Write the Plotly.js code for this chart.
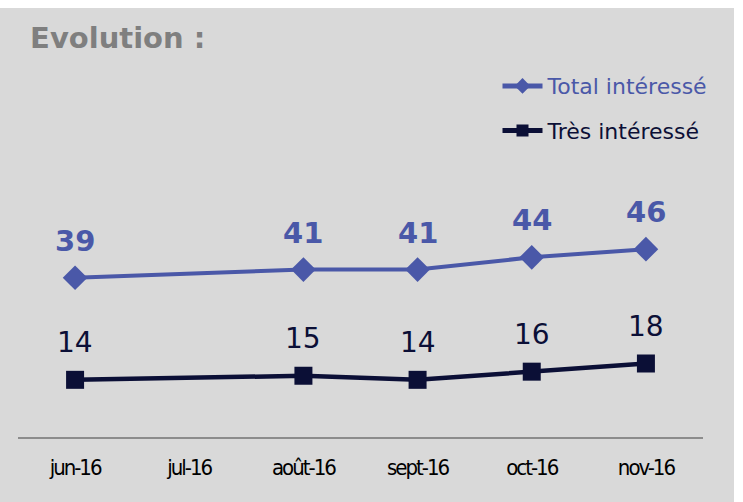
<!DOCTYPE html>
<html>
<head>
<meta charset="utf-8">
<script src="https://cdn.plot.ly/plotly-3.0.1.min.js"></script>
<style>
html,body{margin:0;padding:0;background:#ffffff;}
#chart{position:absolute;left:0;top:8px;width:734px;height:494px;}
</style>
</head>
<body>
<div id="chart"></div>
<script>
// Data
const months = ['jun-16','jul-16','août-16','sept-16','oct-16','nov-16'];
const pointMonths = ['jun-16','août-16','sept-16','oct-16','nov-16'];
const totalInteresse = [39, 41, 41, 44, 46];
const tresInteresse = [14, 15, 14, 16, 18];
const seriesNames = ['Total intéressé', 'Très intéressé'];

const blue = '#4a58a8';
const navy = '#0b0f36';

const traces = [
  {
    x: pointMonths, y: totalInteresse, name: seriesNames[0],
    type: 'scatter', mode: 'lines+markers',
    line: {color: blue, width: 4},
    marker: {symbol: 'diamond', size: 19, color: blue},
    cliponaxis: false, legendgroup: 'a'
  },
  {
    x: pointMonths, y: tresInteresse, name: seriesNames[1],
    type: 'scatter', mode: 'lines+markers',
    line: {color: navy, width: 4.5},
    marker: {symbol: 'square', size: 18, color: navy},
    cliponaxis: false, legendgroup: 'b'
  }
];

const annotations = [];
pointMonths.forEach(function(m, i){
  annotations.push({
    x: m, y: totalInteresse[i], xref: 'x', yref: 'y', text: String(totalInteresse[i]),
    showarrow: false, yshift: 37, yanchor: 'middle',
    font: {family: 'DejaVu Sans', size: 29, color: blue, weight: 'bold'}
  });
  annotations.push({
    x: m, y: tresInteresse[i], xref: 'x', yref: 'y', text: String(tresInteresse[i]),
    showarrow: false, yshift: 37, yanchor: 'middle',
    font: {family: 'DejaVu Sans', size: 28, color: navy}
  });
});

const layout = {
  width: 734, height: 494,
  paper_bgcolor: '#d9d9d9', plot_bgcolor: 'rgba(0,0,0,0)',
  margin: {l: 18, r: 31, t: 184, b: 65},
  font: {family: 'DejaVu Sans'},
  title: {
    text: 'Evolution :', xref: 'container', yref: 'container',
    x: 0.041, xanchor: 'left', y: 0.94, yanchor: 'middle',
    font: {family: 'DejaVu Sans', size: 29, color: '#7f7f7f', weight: 'bold'}
  },
  xaxis: {
    type: 'category', categoryorder: 'array', categoryarray: months,
    range: [-0.5, 5.5], showgrid: false, zeroline: false,
    showline: true, linecolor: '#8c8c8c', linewidth: 2,
    ticks: '', ticklabelstandoff: 10,
    tickfont: {family: 'DejaVu Sans Condensed', size: 22, color: '#000000'},
    fixedrange: true
  },
  yaxis: {
    range: [0, 60], visible: false, showgrid: false, zeroline: false, fixedrange: true
  },
  annotations: annotations,
  showlegend: true,
  legend: {
    x: 0.70, xanchor: 'left', y: 1.518, yanchor: 'top',
    bgcolor: 'rgba(0,0,0,0)', tracegroupgap: 13,
    font: {family: 'DejaVu Sans', size: 22},
    itemwidth: 40, itemsizing: 'constant'
  }
};

Plotly.newPlot('chart', traces, layout, {displayModeBar: false, staticPlot: true}).then(function(){
  const texts = document.querySelectorAll('.legendtext');
  if (texts[0]) texts[0].style.fill = blue;
  if (texts[1]) texts[1].style.fill = navy;
  document.querySelectorAll('.xtick text').forEach(function(t){ t.style.letterSpacing = '-2px'; });
});
</script>
</body>
</html>
